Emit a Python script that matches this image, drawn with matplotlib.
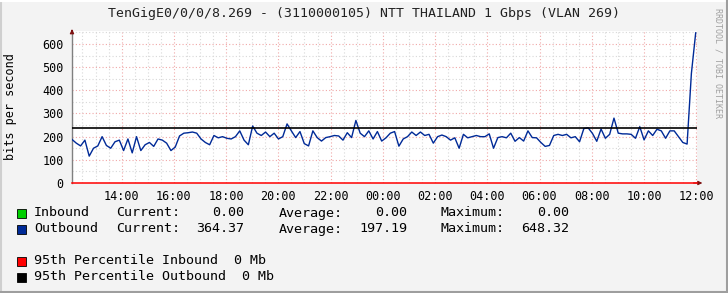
import numpy as np
import matplotlib
matplotlib.use("Agg")
import matplotlib.pyplot as plt
from matplotlib.patches import Rectangle
from matplotlib.lines import Line2D

W, H = 728, 293

# outbound traffic, 10 minute samples from 12:06 to 12:00 next day
outbound = [188, 172, 160, 185, 116, 150, 160, 200, 162, 150, 178, 185, 140,
            190, 130, 200, 140, 165, 175, 158, 190, 185, 172, 140, 155,
            203, 215, 217, 220, 215, 190, 175, 165, 205, 195, 200, 193,
            190, 200, 225, 185, 165, 246, 215, 205, 220, 200, 215, 190,
            200, 255, 225, 196, 222, 170, 160, 225, 196, 181, 196, 200,
            205, 203, 185, 217, 196, 270, 215, 200, 225, 190, 222, 181,
            195, 215, 222, 159, 190, 200, 220, 205, 220, 205, 210, 172,
            200, 207, 200, 185, 195, 150, 210, 195, 200, 205, 200, 200,
            212, 150, 196, 200, 195, 215, 180, 196, 181, 225, 196, 195,
            175, 158, 162, 205, 210, 205, 210, 195, 200, 178, 235, 238,
            214, 180, 233, 193, 210, 280, 215, 212, 212, 210, 193, 243,
            186, 225, 205, 232, 225, 193, 225, 225, 200, 175, 168,
            473, 648]
t_start, t_end = 0.1, 23.98          # hours after 12:00
pct_inbound = 0
pct_outbound = 238
tick_hours = [2, 4, 6, 8, 10, 12, 14, 16, 18, 20, 22, 24]
tick_labels = ["14:00", "16:00", "18:00", "20:00", "22:00", "00:00",
               "02:00", "04:00", "06:00", "08:00", "10:00", "12:00"]

legend_rows = [
    ("Inbound", "#00CF00", ["0.00", "0.00", "0.00"]),
    ("Outbound", "#002A97", ["364.37", "197.19", "648.32"]),
]
pct_rows = [
    ("95th Percentile Inbound  0 Mb", "#FF0000"),
    ("95th Percentile Outbound  0 Mb", "#000000"),
]

mono = "DejaVu Sans Mono"
plt.rcParams["font.family"] = mono


def px(x, y):
    return x / W, 1 - y / H


fig = plt.figure(figsize=(W / 100, H / 100), dpi=100, facecolor="#F3F3F3")
left, top, right, bottom = 72, 31, 697, 183
ax = fig.add_axes([left / W, 1 - bottom / H, (right - left) / W, (bottom - top) / H])
ax.set_facecolor("white")
ax.set_xlim(0.1, 24.03)
ax.set_ylim(0, 656)

# grid
for h in np.arange(0.5, 24.01, 0.5):
    major = abs(h / 2 - round(h / 2)) < 1e-6
    ax.axvline(h, color="#F0A8A8" if major else "#D8D8D8",
               lw=0.8, ls=(0, (1, 2)), zorder=1)
for v in range(50, 651, 50):
    major = v % 100 == 0
    ax.axhline(v, color="#F0A8A8" if major else "#D8D8D8",
               lw=0.8, ls=(0, (1, 2)), zorder=1)

t = np.linspace(t_start, t_end, len(outbound))
ax.plot(t, outbound, color="#002A97", lw=1.0, zorder=3)
ax.axhline(pct_outbound, color="black", lw=1.2, zorder=4)
ax.axhline(pct_inbound, color="#FF0000", lw=1.1, zorder=4, clip_on=False)

for s in ["top", "right", "bottom"]:
    ax.spines[s].set_visible(False)
ax.spines["left"].set_color("#808080")
ax.spines["left"].set_linewidth(1)

ax.set_xticks(tick_hours)
ax.set_xticklabels(tick_labels)
ax.set_yticks(range(0, 601, 100))
ax.tick_params(length=0, labelsize=8.5, colors="black")
ax.tick_params(axis="x", pad=5)
ax.tick_params(axis="y", pad=6)
ax.set_ylabel("bits per second", fontsize=8.5, labelpad=18)

# axis arrows
ax.annotate("", xy=(0, 1.03), xytext=(0, 0.98), xycoords="axes fraction",
            arrowprops=dict(arrowstyle="-|>", color="#7F1010", lw=0.8,
                            mutation_scale=6), annotation_clip=False)
ax.annotate("", xy=(1.013, 0), xytext=(0.99, 0), xycoords="axes fraction",
            arrowprops=dict(arrowstyle="-|>", color="#7F1010", lw=0.8,
                            mutation_scale=6), annotation_clip=False)

fig.text(*px(364, 14), "TenGigE0/0/0/8.269 - (3110000105) NTT THAILAND 1 Gbps (VLAN 269)",
         ha="center", va="center", fontsize=9.5, color="#222222")
fig.text(*px(718, 8), "RRDTOOL / TOBI OETIKER", rotation=270, ha="center", va="top",
         fontsize=6, color="#A0A0A0")

# legend
def square(y, color):
    x0, y0 = px(17, y + 4.5)
    fig.patches.append(Rectangle((x0, y0), 9 / W, 9 / H, transform=fig.transFigure,
                                 facecolor=color, edgecolor="black", lw=0.6))


for i, (name, color, vals) in enumerate(legend_rows):
    y = 213 + i * 16
    square(y, color)
    fig.text(*px(34, y), name, va="center", fontsize=9.6)
    fig.text(*px(116, y), "Current:", va="center", fontsize=9.6)
    fig.text(*px(244, y), vals[0], va="center", ha="right", fontsize=9.6)
    fig.text(*px(279, y), "Average:", va="center", fontsize=9.6)
    fig.text(*px(407, y), vals[1], va="center", ha="right", fontsize=9.6)
    fig.text(*px(441, y), "Maximum:", va="center", fontsize=9.6)
    fig.text(*px(569, y), vals[2], va="center", ha="right", fontsize=9.6)

for i, (label, color) in enumerate(pct_rows):
    y = 261 + i * 16
    square(y, color)
    fig.text(*px(34, y), label, va="center", fontsize=9.6)

# 3d frame
for (x0, y0, x1, y1, c) in [(0.5, 0, 0.5, 293, "#CFCFCF"), (0, 0.5, 728, 0.5, "#FFFFFF"),
                            (727, 0, 727, 293, "#9E9E9E"), (0, 292, 728, 292, "#9E9E9E")]:
    a, b = px(x0, y0)
    c2, d = px(x1, y1)
    fig.lines.append(Line2D([a, c2], [b, d], transform=fig.transFigure, color=c, lw=1.5))

fig.savefig("out.png", dpi=100, facecolor=fig.get_facecolor())
